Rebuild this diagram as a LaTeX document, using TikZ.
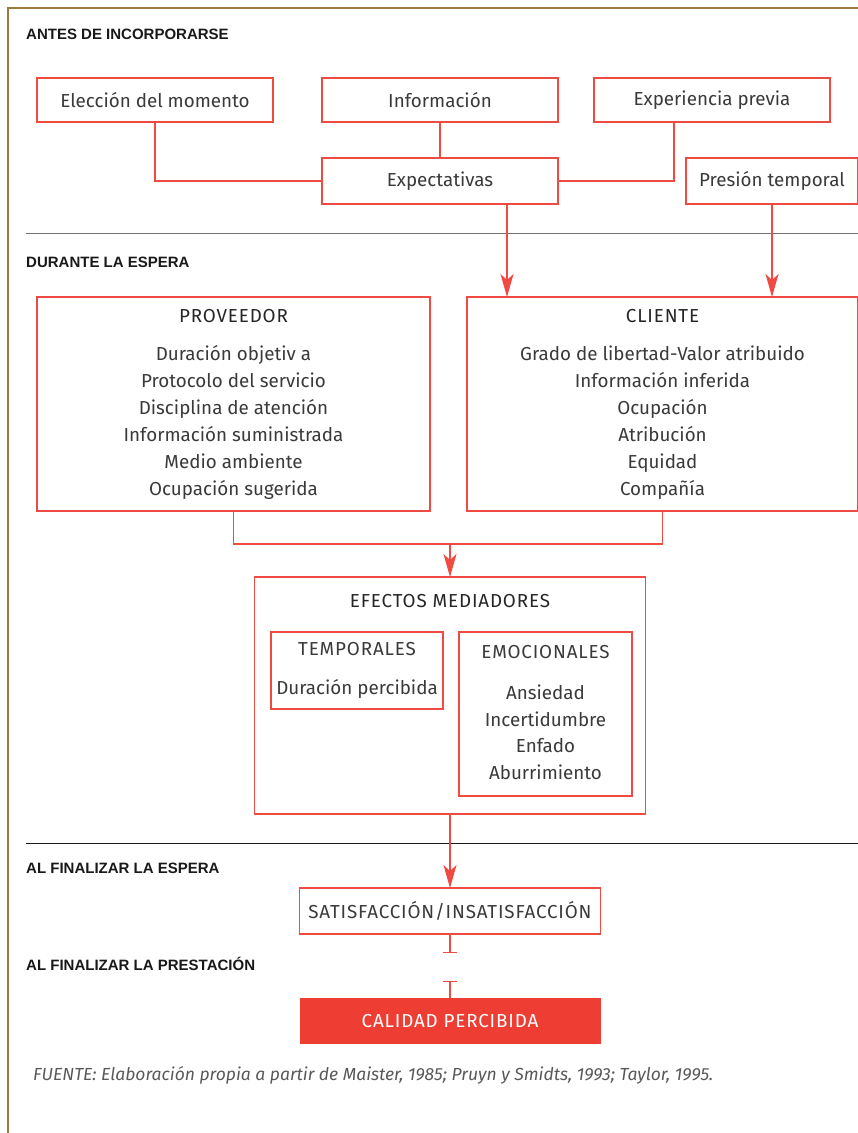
\documentclass[tikz,border=0pt]{standalone}
\usepackage{fontspec}
\setmainfont{Fira Sans}
\newfontfamily\headfont{Liberation Sans}
\newfontfamily\capsfont[LetterSpace=4.5]{Fira Sans}
\usetikzlibrary{arrows.meta}
\definecolor{redline}{HTML}{EF4B43}
\definecolor{redfill}{HTML}{EE3E33}
\definecolor{framecol}{HTML}{9C7A3C}
\definecolor{txt}{HTML}{3A3A3A}
\begin{document}
\begin{tikzpicture}[x=1pt,y=-1pt,
  box/.style={draw=redline, line width=1.2pt, inner sep=0pt, outer sep=0pt, text=txt, font=\fontsize{18.8}{22}\selectfont},
  capsbox/.style={box, font=\capsfont\fontsize{18.8}{22}\selectfont},
  head/.style={anchor=west, inner sep=0pt, font=\headfont\bfseries\fontsize{15}{18}\selectfont, text=black!90},
  conn/.style={draw=redline, line width=1.2pt},
  arr/.style={conn, -{Stealth[length=23pt,width=13pt,inset=6pt]}},
  tbar/.style={conn, -{Bar[width=14pt,line width=1.2pt]}},
  lbl/.style={text=txt, inner sep=0pt, font=\fontsize{18.8}{22}\selectfont},
  capslbl/.style={text=black!85, inner sep=0pt, font=\capsfont\fontsize{18.8}{22}\selectfont},
  lst/.style={text=txt, align=center, inner sep=0pt, font=\fontsize{18.8}{27}\selectfont}]
\useasboundingbox (0,0) rectangle (858,1133);
\fill[white] (0,0) rectangle (858,1133);
% frame
\draw[framecol, line width=2pt] (8,1133) -- (8,8) -- (858,8);
% separators
\draw[black!55, line width=1pt] (26,233) -- (858,233);
\draw[black!90, line width=1pt] (26,843) -- (858,843);
% headings
\node[head] (h1) at (26,34) {ANTES DE INCORPORARSE};
\node[head] (h2) at (26,262) {DURANTE LA ESPERA};
\node[head] (h3) at (26,868) {AL FINALIZAR LA ESPERA};
\node[head] (h4) at (26,964) {AL FINALIZAR LA PRESTACIÓN};
% top boxes
\node[box, minimum width=236pt, minimum height=44pt] (elec) at (155,100) {Elección del momento};
\node[box, minimum width=236pt, minimum height=44pt] (info) at (440,100) {Información};
\node[box, minimum width=236pt, minimum height=44pt] (exp) at (712,100) {Experiencia previa};
\node[box, minimum width=236pt, minimum height=46pt] (expt) at (440,181) {Expectativas};
\node[box, minimum width=172pt, minimum height=46pt] (pres) at (772,181) {Presión temporal};
% provider / client
\node[box, minimum width=393pt, minimum height=214pt] (prov) at (233.5,404) {};
\node[capslbl] (provh) at (233.5,316) {PROVEEDOR};
\node[lst] (provl) at (233.5,422.5) {Duración objetiv a\\Protocolo del servicio\\Disciplina de atención\\Información suministrada\\Medio ambiente\\Ocupación sugerida};
\node[box, minimum width=391pt, minimum height=214pt] (cli) at (662.5,404) {};
\node[capslbl] (clih) at (662.5,316) {CLIENTE};
\node[lst] (clil) at (662.5,422.5) {Grado de libertad-Valor atribuido\\Información inferida\\Ocupación\\Atribución\\Equidad\\Compañía};
% mediating effects
\node[box, minimum width=391pt, minimum height=237pt] (efe) at (450,695.5) {};
\node[capslbl] (efeh) at (450,601) {EFECTOS MEDIADORES};
\node[box, minimum width=172pt, minimum height=77pt] (tem) at (357,670.5) {};
\node[capslbl, text=txt] (temh) at (357,649) {TEMPORALES};
\node[lbl] (teml) at (357,689) {Duración percibida};
\node[box, minimum width=173pt, minimum height=164pt] (emo) at (545.5,714) {};
\node[capslbl, text=txt] (emoh) at (545.5,652) {EMOCIONALES};
\node[lst, font=\fontsize{18.8}{26.5}\selectfont] (emol) at (545.5,732.5) {Ansiedad\\Incertidumbre\\Enfado\\Aburrimiento};
% outcome
\node[capsbox, minimum width=301pt, minimum height=46pt] (sat) at (450,911) {SATISFACCIÓN/INSATISFACCIÓN};
\node[capsbox, draw=none, fill=redfill, text=white, minimum width=301pt, minimum height=46pt] (cal) at (450,1021) {CALIDAD PERCIBIDA};
% source
\node[anchor=west, inner sep=0pt, text=black!65, font=\itshape\fontsize{17.5}{20}\selectfont] (src) at (33,1075) {FUENTE: Elaboración propia a partir de Maister, 1985; Pruyn y Smidts, 1993; Taylor, 1995.};
% connectors
\draw[conn] (elec.south) |- (expt.west);
\draw[conn] (info.south) -- (expt.north);
\draw[conn] ([xshift=-38pt]exp.south) |- (expt.east);
\draw[arr] ([xshift=67pt]expt.south) -- ([xshift=67pt]expt.south |- cli.north);
\draw[arr] (pres.south) -- (pres.south |- cli.north);
\coordinate (join) at (450,544);
\draw[conn] (prov.south) |- (join) -| (cli.south);
\draw[arr] (join) -- (efe.north);
\draw[arr] (efe.south) -- (sat.north);
\coordinate (tb1) at (450,953);
\coordinate (tb2) at (450,981);
\draw[tbar] (sat.south) -- (tb1);
\draw[tbar] (cal.north) -- (tb2);
\end{tikzpicture}
\end{document}
